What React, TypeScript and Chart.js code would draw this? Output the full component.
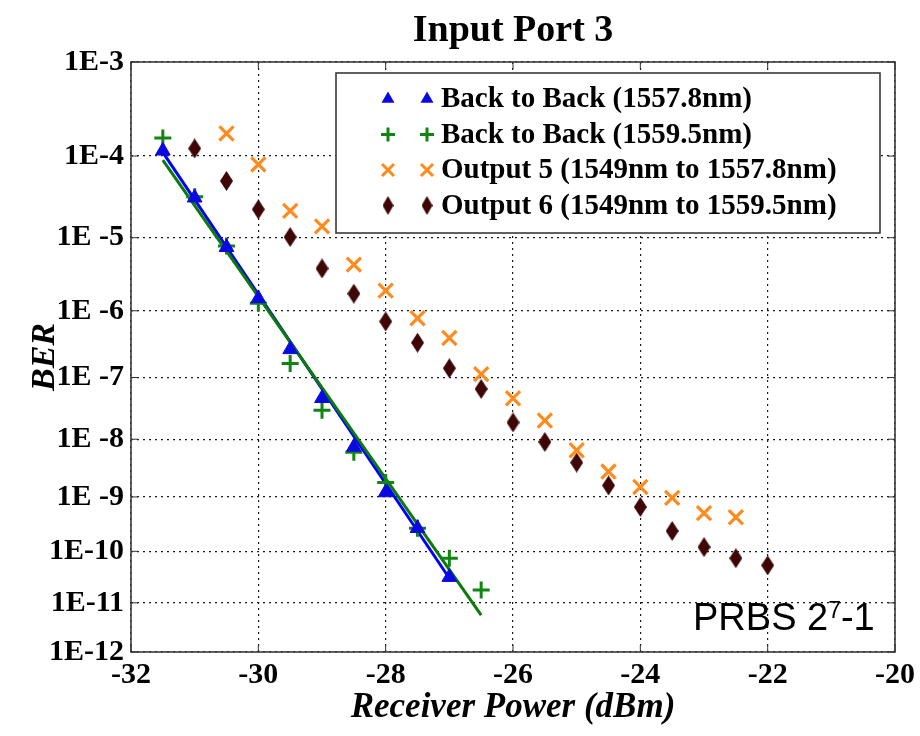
import React, { useEffect, useRef } from 'react';
import { Chart, registerables, Scale } from 'chart.js';

// ---------- data ----------
const xTickValues = [-32, -30, -28, -26, -24, -22, -20];
const yTickValues = [1e-3, 1e-4, 1e-5, 1e-6, 1e-7, 1e-8, 1e-9, 1e-10, 1e-11, 1e-12];
const yTickLabels = ['1E-3', '1E-4', '1E -5', '1E -6', '1E -7', '1E -8', '1E -9', '1E-10', '1E-11', '1E-12'];

const seriesNames = [
  'Back to Back (1557.8nm)',
  'Back to Back (1559.5nm)',
  'Output 5 (1549nm to 1557.8nm)',
  'Output 6 (1549nm to 1559.5nm)',
];

const b2b1Power = [-31.5, -31, -30.5, -30, -29.5, -29, -28.5, -28, -27.5, -27];
const b2b1Ber = [1.15e-4, 3.2e-5, 7.5e-6, 1.5e-6, 2.7e-7, 4.7e-8, 7.4e-9, 1.2e-9, 2.7e-10, 3.2e-11];

const b2b2Power = [-31.5, -31, -30.5, -30, -29.5, -29, -28.5, -28, -27.5, -27, -26.5];
const b2b2Ber = [1.6e-4, 3.3e-5, 7.8e-6, 1.28e-6, 1.65e-7, 3.0e-8, 6.0e-9, 1.8e-9, 2.7e-10, 7.4e-11, 1.8e-11];

const out5Power = [-30.5, -30, -29.5, -29, -28.5, -28, -27.5, -27, -26.5, -26, -25.5, -25, -24.5, -24, -23.5, -23, -22.5];
const out5Ber = [1.8e-4, 8.0e-5, 2.2e-5, 1.4e-5, 4.4e-6, 1.93e-6, 7.8e-7, 4.0e-7, 1.13e-7, 4.7e-8, 2.05e-8, 6.5e-9, 2.8e-9, 1.5e-9, 9.6e-10, 5.1e-10, 4.3e-10];

const out6Power = [-31, -30.5, -30, -29.5, -29, -28.5, -28, -27.5, -27, -26.5, -26, -25.5, -25, -24.5, -24, -23.5, -23, -22.5, -22];
const out6Ber = [1.22e-4, 5.1e-5, 2.3e-5, 1.02e-5, 3.9e-6, 1.75e-6, 7.0e-7, 3.4e-7, 1.39e-7, 6.6e-8, 1.9e-8, 9.0e-9, 4.0e-9, 1.6e-9, 6.6e-10, 2.4e-10, 1.2e-10, 7.4e-11, 5.4e-11];

const fit1Power = [-31.5, -27];
const fit1Ber = [1.1e-4, 3.05e-11];
const fit2Power = [-31.5, -26.5];
const fit2Ber = [9.0e-5, 5.7e-12];

// ---------- colours ----------
const BLUE = '#0a0ae0';
const GREEN = '#128412';
const ORANGE = '#ff8a1e';
const MAROON = '#3e0606';
const SERIF = '"Liberation Serif", "Times New Roman", serif';
const SANS = '"Liberation Sans", Arial, sans-serif';

// ---------- Q-scale math (BER axis) ----------
function normInv(p: number): number {
  const a = [-3.969683028665376e1, 2.209460984245205e2, -2.759285104469687e2, 1.38357751867269e2, -3.066479806614716e1, 2.506628277459239];
  const b = [-5.447609879822406e1, 1.615858368580409e2, -1.556989798598866e2, 6.680131188771972e1, -1.328068155288572e1];
  const c = [-7.784894002430293e-3, -3.223964580411365e-1, -2.400758277161838, -2.549732539343734, 4.374664141464968, 2.938163982698783];
  const d = [7.784695709041462e-3, 3.224671290700398e-1, 2.445134137142996, 3.754408661907416];
  const pLow = 0.02425;
  if (p <= 0) return -Infinity;
  if (p >= 1) return Infinity;
  if (p < pLow) {
    const q = Math.sqrt(-2 * Math.log(p));
    return (((((c[0] * q + c[1]) * q + c[2]) * q + c[3]) * q + c[4]) * q + c[5]) / ((((d[0] * q + d[1]) * q + d[2]) * q + d[3]) * q + 1);
  }
  if (p <= 1 - pLow) {
    const q = p - 0.5;
    const r = q * q;
    return ((((((a[0] * r + a[1]) * r + a[2]) * r + a[3]) * r + a[4]) * r + a[5]) * q) / (((((b[0] * r + b[1]) * r + b[2]) * r + b[3]) * r + b[4]) * r + 1);
  }
  const q = Math.sqrt(-2 * Math.log(1 - p));
  return -(((((c[0] * q + c[1]) * q + c[2]) * q + c[3]) * q + c[4]) * q + c[5]) / ((((d[0] * q + d[1]) * q + d[2]) * q + d[3]) * q + 1);
}
function erfc(x: number): number {
  const z = Math.abs(x);
  const t = 1 / (1 + 0.5 * z);
  const r = t * Math.exp(-z * z - 1.26551223 + t * (1.00002368 + t * (0.37409196 + t * (0.09678418 + t * (-0.18628806 + t * (0.27886807 + t * (-1.13520398 + t * (1.48851587 + t * (-0.82215223 + t * 0.17087277)))))))));
  return x >= 0 ? r : 2 - r;
}
const qOf = (ber: number) => -normInv(ber);
const berOf = (q: number) => 0.5 * erfc(q / Math.SQRT2);

class BerQScale extends (Scale as any) {
  static id = 'berq';
  static defaults = {};
  determineDataLimits() {
    const o: any = this.options;
    this.min = o.min ?? 1e-12;
    this.max = o.max ?? 1e-3;
  }
  buildTicks() {
    return yTickValues.map((v) => ({ value: v }));
  }
  getLabelForValue(v: number) {
    return String(v);
  }
  configure() {
    super.configure();
    this._qStart = qOf(this.min);
    this._qRange = qOf(this.max) - this._qStart;
  }
  getPixelForValue(v: number) {
    if (v == null || !(v > 0)) return NaN;
    return this.getPixelForDecimal((qOf(v) - this._qStart) / this._qRange);
  }
  getValueForPixel(p: number) {
    return berOf(this._qStart + this.getDecimalForPixel(p) * this._qRange);
  }
}

Chart.register(...registerables, BerQScale as any);

function makeDiamond(color: string, w: number, h: number) {
  const c = document.createElement('canvas');
  c.width = w;
  c.height = h;
  const g = c.getContext('2d')!;
  g.fillStyle = color;
  g.beginPath();
  g.moveTo(w / 2, 0);
  g.lineTo(w, h / 2);
  g.lineTo(w / 2, h);
  g.lineTo(0, h / 2);
  g.closePath();
  g.fill();
  return c;
}

function drawMarker(ctx: CanvasRenderingContext2D, kind: number, x: number, y: number, diamond: HTMLCanvasElement) {
  ctx.save();
  if (kind === 0) {
    const r = 7.5;
    ctx.fillStyle = BLUE;
    ctx.beginPath();
    ctx.moveTo(x, y - r);
    ctx.lineTo(x + r * 0.866, y + r / 2);
    ctx.lineTo(x - r * 0.866, y + r / 2);
    ctx.closePath();
    ctx.fill();
  } else if (kind === 1) {
    const r = 7;
    ctx.strokeStyle = GREEN;
    ctx.lineWidth = 3;
    ctx.beginPath();
    ctx.moveTo(x - r, y);
    ctx.lineTo(x + r, y);
    ctx.moveTo(x, y - r);
    ctx.lineTo(x, y + r);
    ctx.stroke();
  } else if (kind === 2) {
    const r = 6;
    ctx.strokeStyle = ORANGE;
    ctx.lineWidth = 3;
    ctx.beginPath();
    ctx.moveTo(x - r, y - r);
    ctx.lineTo(x + r, y + r);
    ctx.moveTo(x + r, y - r);
    ctx.lineTo(x - r, y + r);
    ctx.stroke();
  } else {
    ctx.drawImage(diamond, x - diamond.width / 2, y - diamond.height / 2);
  }
  ctx.restore();
}

const pts = (xs: number[], ys: number[]) => xs.map((x, i) => ({ x, y: ys[i] }));

export default function App() {
  const ref = useRef<HTMLCanvasElement | null>(null);
  useEffect(() => {
    document.body.style.margin = '0';
    const canvas = ref.current;
    if (!canvas) return;
    const diamond = makeDiamond(MAROON, 13, 20);
    const legendDiamond = makeDiamond(MAROON, 11, 19);

    const decor = {
      id: 'decor',
      afterDraw(chart: any) {
        const { ctx, chartArea: a, scales } = chart;
        ctx.save();
        // inward ticks
        ctx.strokeStyle = '#333';
        ctx.lineWidth = 1;
        ctx.beginPath();
        for (const v of xTickValues) {
          const px = scales.x.getPixelForValue(v);
          ctx.moveTo(px, a.bottom);
          ctx.lineTo(px, a.bottom - 7);
          ctx.moveTo(px, a.top);
          ctx.lineTo(px, a.top + 7);
        }
        for (const v of yTickValues) {
          const py = scales.y.getPixelForValue(v);
          ctx.moveTo(a.left, py);
          ctx.lineTo(a.left + 7, py);
          ctx.moveTo(a.right, py);
          ctx.lineTo(a.right - 7, py);
        }
        ctx.stroke();
        // frame
        ctx.lineWidth = 1.6;
        ctx.strokeStyle = '#3a3a3a';
        ctx.strokeRect(a.left, a.top, a.right - a.left, a.bottom - a.top);

        // legend
        const lx = a.left + 205;
        const ly = a.top + 11;
        const lw = 544;
        const lh = 160;
        ctx.fillStyle = '#fff';
        ctx.fillRect(lx, ly, lw, lh);
        ctx.lineWidth = 1.6;
        ctx.strokeStyle = '#3a3a3a';
        ctx.strokeRect(lx, ly, lw, lh);
        ctx.font = `bold 29px ${SERIF}`;
        ctx.fillStyle = '#000';
        ctx.textBaseline = 'middle';
        ctx.textAlign = 'left';
        seriesNames.forEach((name, i) => {
          const y = ly + 26 + i * 35.5;
          drawMarker(ctx, i, lx + 52, y, legendDiamond);
          drawMarker(ctx, i, lx + 91, y, legendDiamond);
          ctx.fillStyle = '#000';
          ctx.fillText(name, lx + 105, y + 1);
        });

        // PRBS annotation
        ctx.textBaseline = 'alphabetic';
        ctx.fillStyle = '#000';
        let tx = a.right - 202;
        const ty = a.bottom - 22;
        ctx.font = `38px ${SANS}`;
        ctx.fillText('PRBS 2', tx, ty);
        tx += ctx.measureText('PRBS 2').width;
        ctx.font = `23px ${SANS}`;
        ctx.fillText('7', tx, ty - 12);
        tx += ctx.measureText('7').width;
        ctx.font = `38px ${SANS}`;
        ctx.fillText('-1', tx, ty);
        ctx.restore();
      },
    };

    const chart = new Chart(canvas, {
      type: 'scatter',
      data: {
        datasets: [
          {
            label: seriesNames[0],
            data: pts(b2b1Power, b2b1Ber),
            pointStyle: 'triangle',
            pointRadius: 8.5,
            backgroundColor: BLUE,
            borderColor: BLUE,
            borderWidth: 1,
            order: 0,
          },
          {
            label: seriesNames[1],
            data: pts(b2b2Power, b2b2Ber),
            pointStyle: 'cross',
            pointRadius: 8.5,
            backgroundColor: GREEN,
            borderColor: GREEN,
            borderWidth: 3,
            order: 0,
          },
          {
            label: seriesNames[2],
            data: pts(out5Power, out5Ber),
            pointStyle: 'crossRot',
            pointRadius: 10,
            backgroundColor: ORANGE,
            borderColor: ORANGE,
            borderWidth: 3.2,
            order: 0,
          },
          {
            label: seriesNames[3],
            data: pts(out6Power, out6Ber),
            pointStyle: diamond,
            pointRadius: 9,
            backgroundColor: MAROON,
            borderColor: MAROON,
            order: 0,
          },
          {
            label: 'fit 1557.8nm',
            data: pts(fit1Power, fit1Ber),
            showLine: true,
            pointRadius: 0,
            borderColor: '#0000ff',
            borderWidth: 3,
            order: 2,
          },
          {
            label: 'fit 1559.5nm',
            data: pts(fit2Power, fit2Ber),
            showLine: true,
            pointRadius: 0,
            borderColor: '#0a7a0a',
            borderWidth: 3,
            order: 1,
          },
        ],
      } as any,
      options: {
        responsive: false,
        animation: false,
        events: [],
        layout: { padding: { left: 0, right: 23, top: 0, bottom: 0 } },
        plugins: {
          legend: { display: false },
          tooltip: { enabled: false },
          title: {
            display: true,
            text: 'Input Port 3',
            fullSize: false,
            color: '#000',
            font: { family: SERIF, size: 38, weight: 'bold' },
            padding: { top: 8.2, bottom: 8.2 },
          },
        },
        scales: {
          x: {
            type: 'linear',
            min: -32,
            max: -20,
            afterBuildTicks: (s: any) => {
              s.ticks = xTickValues.map((v) => ({ value: v }));
            },
            afterFit: (s: any) => {
              s.height = 84;
            },
            ticks: {
              autoSkip: false,
              maxRotation: 0,
              padding: 5,
              color: '#000',
              font: { family: SERIF, size: 30, weight: 'bold' },
              callback: (v: any) => String(v),
            },
            grid: { color: '#1a1a1a', lineWidth: 1.2, drawTicks: false },
            border: { display: false, dash: [2, 4] },
            title: {
              display: true,
              text: 'Receiver Power (dBm)',
              color: '#000',
              font: { family: SERIF, size: 35, weight: 'bold', style: 'italic' },
              padding: { top: 0, bottom: 7 },
            },
          },
          y: {
            type: 'berq',
            min: 1e-12,
            max: 1e-3,
            afterFit: (s: any) => {
              s.width = 131;
            },
            ticks: {
              autoSkip: false,
              padding: 7,
              color: '#000',
              font: { family: SERIF, size: 30, weight: 'bold' },
              callback: (_v: any, i: number) => yTickLabels[i],
            },
            grid: { color: '#1a1a1a', lineWidth: 1.2, drawTicks: false },
            border: { display: false, dash: [2, 4] },
            title: {
              display: true,
              text: 'BER',
              color: '#000',
              font: { family: SERIF, size: 34, weight: 'bold', style: 'italic' },
              padding: { top: 25, bottom: 0 },
            },
          },
        },
      } as any,
      plugins: [decor],
    });
    return () => chart.destroy();
  }, []);
  return (
    <div style={{ width: 920, height: 736, background: '#fff' }}>
      <canvas ref={ref} width={920} height={736} />
    </div>
  );
}
